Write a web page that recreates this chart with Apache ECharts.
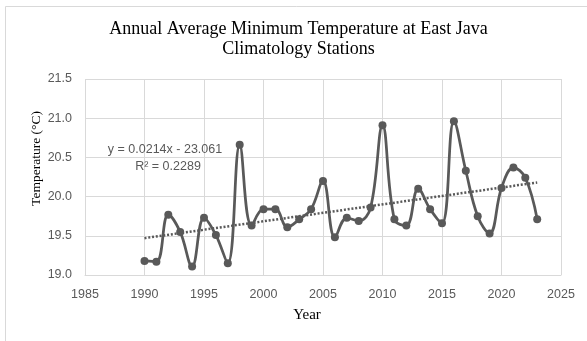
<!DOCTYPE html>
<html>
<head>
<meta charset="utf-8">
<script src="https://cdn.jsdelivr.net/npm/echarts@6/dist/echarts.min.js"></script>
<style>
html,body{margin:0;padding:0;background:#fff;}
#c{width:587px;height:341px;}
</style>
</head>
<body>
<div id="c"></div>
<script>
const years = [1990,1991,1992,1993,1994,1995,1996,1997,1998,1999,2000,2001,2002,2003,2004,2005,2006,2007,2008,2009,2010,2011,2012,2013,2014,2015,2016,2017,2018,2019,2020,2021,2022,2023];
const minTemp = [19.18,19.17,19.77,19.55,19.11,19.73,19.51,19.15,20.66,19.63,19.84,19.84,19.61,19.71,19.84,20.20,19.48,19.73,19.69,19.86,20.91,19.71,19.63,20.10,19.84,19.66,20.96,20.33,19.75,19.53,20.11,20.37,20.24,19.71];
const trendYears = [1990, 2023];
const trendValues = [19.47, 20.18];
const xTickLabels = ['1985','1990','1995','2000','2005','2010','2015','2020','2025'];
const yTickLabels = ['19.0','19.5','20.0','20.5','21.0','21.5'];
const titleLines = ['Annual Average Minimum Temperature at East Java','Climatology Stations'];
const equationText = 'y = 0.0214x - 23.061';
const r2Text = 'R\u00B2 = 0.2289';

const chart = echarts.init(document.getElementById('c'), null, {renderer:'canvas'});
const gridColor = '#d9d9d9';
const labelColor = '#595959';
const seriesColor = '#595959';
const xMin = +xTickLabels[0], xMax = +xTickLabels[xTickLabels.length-1];
const yMin = +yTickLabels[0], yMax = +yTickLabels[yTickLabels.length-1];

chart.setOption({
  animation:false,
  backgroundColor:'#fff',
  grid:{left:85,right:26,top:79,bottom:66,containLabel:false},
  xAxis:{
    type:'value', min:xMin, max:xMax, interval:5,
    axisLine:{show:true,lineStyle:{color:gridColor,width:1}},
    axisTick:{show:false},
    splitLine:{show:true,lineStyle:{color:gridColor,width:1}},
    axisLabel:{color:labelColor,fontFamily:'Liberation Sans',fontSize:12.5,margin:13,
      formatter:v=>{const s=String(Math.round(v));return xTickLabels.includes(s)?s:'';}}
  },
  yAxis:{
    type:'value', min:yMin, max:yMax, interval:0.5,
    axisLine:{show:false},
    axisTick:{show:false},
    splitLine:{show:true,lineStyle:{color:gridColor,width:1}},
    axisLabel:{color:labelColor,fontFamily:'Liberation Sans',fontSize:12.5,margin:13,
      formatter:v=>{const s=v.toFixed(1);return yTickLabels.includes(s)?s:'';}}
  },
  series:[
    {
      type:'line', name:'Tmin',
      data: years.map((y,i)=>[y,minTemp[i]]),
      smooth:0.4,
      symbol:'circle', symbolSize:8,
      lineStyle:{color:seriesColor,width:2.75},
      itemStyle:{color:seriesColor},
      z:3
    },
    {
      type:'line', name:'Trend',
      data: trendYears.map((y,i)=>[y,trendValues[i]]),
      symbol:'none',
      lineStyle:{color:seriesColor,width:2.5,type:[2,1.8],cap:'butt'},
      z:2
    }
  ],
  graphic:[
    {type:'rect',shape:{x:5.5,y:6.5,width:700,height:500},style:{fill:'none',stroke:gridColor,lineWidth:1},z:-1,silent:true},
    {type:'text',x:298.5,y:29,style:{text:titleLines[0],font:'18px "Liberation Serif"',fill:'#000',textAlign:'center',textVerticalAlign:'middle'}},
    {type:'text',x:298.5,y:49,style:{text:titleLines[1],font:'18px "Liberation Serif"',fill:'#000',textAlign:'center',textVerticalAlign:'middle'}},
    {type:'text',x:307,y:315,style:{text:'Year',font:'15px "Liberation Serif"',fill:'#000',textAlign:'center',textVerticalAlign:'middle'}},
    {type:'text',x:36,y:158.5,rotation:Math.PI/2,style:{text:'Temperature (\u00B0C)',font:'13.5px "Liberation Serif"',fill:'#000',textAlign:'center',textVerticalAlign:'middle'}},
    {type:'text',x:165,y:150,style:{text:equationText,font:'12.5px "Liberation Sans"',fill:labelColor,textAlign:'center',textVerticalAlign:'middle'},z:10},
    {type:'text',x:168,y:166.5,style:{text:r2Text,font:'12.5px "Liberation Sans"',fill:labelColor,textAlign:'center',textVerticalAlign:'middle'},z:10}
  ]
});
</script>
</body>
</html>
